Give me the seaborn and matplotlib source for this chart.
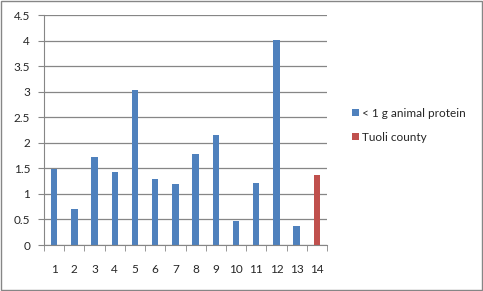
import matplotlib
matplotlib.use("Agg")
import matplotlib.pyplot as plt
import seaborn as sns
import pandas as pd
import numpy as np
from matplotlib.ticker import FixedLocator

categories = [str(i) for i in range(1, 15)]
values = [1.48, 0.70, 1.73, 1.42, 3.04, 1.30, 1.20, 1.79, 2.16, 0.46, 1.22, 4.02, 0.38, 1.37]
series = ["< 1 g animal protein"] * 13 + ["Tuoli county"]
yticks = [0, 0.5, 1, 1.5, 2, 2.5, 3, 3.5, 4, 4.5]
ytick_labels = ["0", "0.5", "1", "1.5", "2", "2.5", "3", "3.5", "4", "4.5"]

sns.set_style("white")
plt.rcParams['font.family'] = ['Lato', 'DejaVu Sans']

df = pd.DataFrame({"cat": categories, "val": values, "series": series})
fig = plt.figure(figsize=(4.83, 2.91), dpi=100)
ax = fig.add_axes([44/483, 1-245/291, (327-44)/483, (245-15)/291])

palette = {"< 1 g animal protein": "#4f81bd", "Tuoli county": "#c0504d"}
sns.barplot(data=df, x="cat", y="val", hue="series", palette=palette, dodge=False,
            width=0.32, ax=ax, saturation=1, linewidth=0)

ax.set_ylim(0, 4.5)
ax.set_xlim(-0.5, 13.5)
ax.set_yticks(yticks)
ax.set_yticklabels(ytick_labels, fontsize=8.5)
ax.yaxis.grid(True, color="#868686", linewidth=0.9)
ax.set_axisbelow(True)
ax.set_xlabel("")
ax.set_ylabel("")
for s in ["top", "right"]:
    ax.spines[s].set_visible(False)
for s in ["left", "bottom"]:
    ax.spines[s].set_color("#868686")
ax.tick_params(axis="y", length=4, color="#868686", direction="out", left=True, pad=6)
ax.tick_params(axis="x", which="major", length=0, pad=14, labelsize=8.5)
ax.xaxis.set_minor_locator(FixedLocator(np.arange(-0.5, 14.0, 1.0)))
ax.tick_params(axis="x", which="minor", length=4, color="#868686", bottom=True)

ax.legend(loc="center left", frameon=False,
          fontsize=8.5, handlelength=0.6, handleheight=0.6, handletextpad=0.3, labelspacing=1.1)
leg = ax.get_legend()
leg.set_bbox_to_anchor((1.05, 0.52))

fig.patches.append(plt.Rectangle((0.002, 0.003), 0.995, 0.993, transform=fig.transFigure,
                                 fill=False, edgecolor="#868686", linewidth=1))
fig.savefig("out.png", dpi=100)
